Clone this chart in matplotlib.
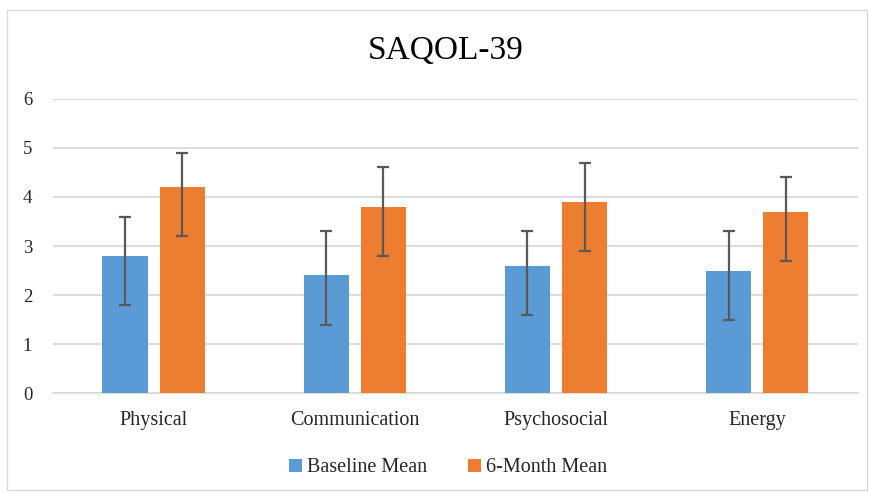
import matplotlib
matplotlib.use("Agg")
import matplotlib.pyplot as plt
import numpy as np
from matplotlib.patches import Rectangle

categories = ["Physical", "Communication", "Psychosocial", "Energy"]
baseline_mean = [2.8, 2.4, 2.6, 2.5]
baseline_err_low = [1.0, 1.0, 1.0, 1.0]
baseline_err_high = [0.8, 0.9, 0.7, 0.8]
month6_mean = [4.2, 3.8, 3.9, 3.7]
month6_err_low = [1.0, 1.0, 1.0, 1.0]
month6_err_high = [0.7, 0.8, 0.8, 0.7]
yticks = [0, 1, 2, 3, 4, 5, 6]

plt.rcParams['font.family'] = ['Liberation Serif', 'DejaVu Serif']

fig = plt.figure(figsize=(8.7, 4.94), dpi=100)
ax = fig.add_axes([0.0609, 0.204, 0.925, 0.596])

x = np.arange(len(categories))
w = 0.224
off = 0.142
blue = "#5B9BD5"
orange = "#ED7D31"
ecol = "#595959"

ax.bar(x - off, baseline_mean, w, color=blue, label="Baseline Mean", zorder=3)
ax.bar(x + off, month6_mean, w, color=orange, label="6-Month Mean", zorder=3)
ax.errorbar(x - off, baseline_mean, yerr=[baseline_err_low, baseline_err_high],
            fmt='none', ecolor=ecol, elinewidth=1.6, capsize=4.3, capthick=1.6, zorder=4)
ax.errorbar(x + off, month6_mean, yerr=[month6_err_low, month6_err_high],
            fmt='none', ecolor=ecol, elinewidth=1.6, capsize=4.3, capthick=1.6, zorder=4)

ax.set_xlim(-0.5, len(categories) - 0.5)
ax.set_ylim(0, 6)
ax.set_yticks(yticks)
ax.set_xticks(x)
ax.set_xticklabels(categories)
ax.yaxis.grid(True, color="#D9D9D9", linewidth=1.3, zorder=0)
ax.set_axisbelow(True)
for s in ["top", "right", "left"]:
    ax.spines[s].set_visible(False)
ax.spines["bottom"].set_color("#D9D9D9")
ax.spines["bottom"].set_linewidth(1.3)
ax.tick_params(axis='both', length=0, colors="#262626")
ax.tick_params(axis='y', pad=15, labelsize=13.5)
ax.tick_params(axis='x', pad=13, labelsize=14.5)

fig.text(0.512, 0.897, "SAQOL-39", ha='center', va='center', fontsize=24, color="#000000")

leg = fig.legend(loc='center', bbox_to_anchor=(0.515, 0.053), ncol=2, frameon=False,
                 fontsize=14.5, handlelength=0.65, handleheight=0.65, handletextpad=0.25,
                 columnspacing=2.0)
for t in leg.get_texts():
    t.set_color("#262626")

fig.patches.append(Rectangle((7/870, 1 - 490/494), 860/870, 480/494, transform=fig.transFigure,
                             fill=False, edgecolor="#D9D9D9", linewidth=1.0))

fig.savefig("out.png", dpi=100)
